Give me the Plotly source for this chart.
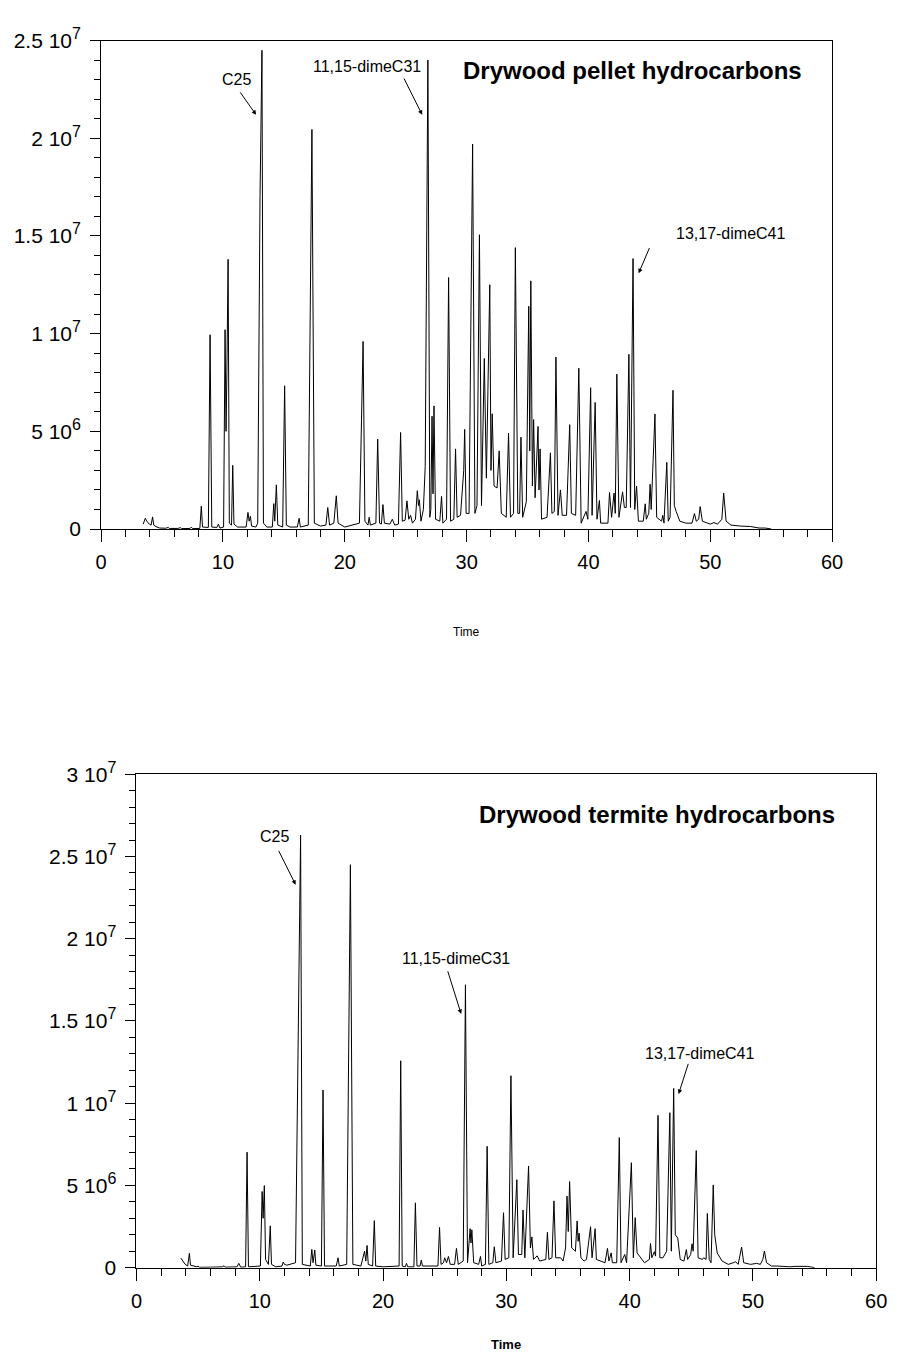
import plotly.graph_objects as go

# ---------------- data (time in min, signal in millions of counts) ----------------
pellet_time = [3.45, 3.62, 3.75, 3.95, 4.10, 4.22, 4.32, 4.5, 4.8, 5.3, 5.5, 5.6, 6.3, 6.5, 6.6, 7.3, 7.4, 7.5,
               8.1, 8.22, 8.32, 8.8, 8.94, 9.08, 9.5, 9.62, 9.75, 10.05, 10.17, 10.25, 10.32, 10.42, 10.52, 10.7,
               10.8, 10.9, 11.2, 11.9, 12.05, 12.15, 12.25, 12.35, 12.7, 12.85, 13.04, 13.1, 13.2, 13.32, 13.6,
               14.05, 14.17, 14.25, 14.38, 14.5, 14.9, 15.06, 15.2, 15.5, 16.1, 16.25, 16.35, 17.0, 17.3, 17.5,
               18.0, 18.45, 18.6, 18.75, 19.1, 19.3, 19.45, 20.0, 21.2, 21.5, 21.65, 21.9, 22.0, 22.1, 22.55,
               22.7, 22.85, 23.0, 23.13, 23.25, 23.7, 23.9, 24.1, 24.4, 24.58, 24.72, 24.95, 25.1, 25.25, 25.4,
               25.55, 25.8, 25.95, 26.05, 26.12, 26.25, 26.45, 26.6, 26.82, 26.98, 27.06, 27.16, 27.24, 27.32,
               27.45, 27.8, 27.94, 28.05, 28.35, 28.52, 28.68, 28.95, 29.09, 29.22, 29.5, 29.76, 29.84, 29.96,
               30.2, 30.49, 30.68, 30.85, 31.05, 31.22, 31.45, 31.62, 31.9, 32.0, 32.1, 32.25, 32.5, 32.67,
               32.85, 33.25, 33.44, 33.6, 33.85, 34.0, 34.2, 34.35, 34.46, 34.6, 34.9, 35.1, 35.18, 35.27,
               35.4, 35.5, 35.62, 35.86, 35.94, 36.03, 36.15, 36.6, 36.88, 37.0, 37.2, 37.33, 37.5, 37.7,
               37.85, 38.2, 38.46, 38.6, 38.95, 39.21, 39.4, 39.8, 39.95, 40.18, 40.3, 40.55, 40.7, 40.9,
               41.0, 41.6, 41.73, 41.9, 42.1, 42.2, 42.33, 42.5, 42.8, 42.95, 43.1, 43.32, 43.45, 43.66,
               43.8, 43.95, 44.1, 44.5, 44.66, 44.75, 44.95, 45.06, 45.15, 45.46, 45.6, 46.0, 46.1, 46.2,
               46.43, 46.55, 46.7, 46.94, 47.05, 47.2, 47.5, 48.0, 48.5, 48.7, 48.85, 49.05, 49.17, 49.35,
               50.0, 50.3, 50.6, 50.95, 51.1, 51.3, 51.7, 52.5, 53.3, 54.0, 54.5, 55.0]
pellet_signal = [0.25, 0.55, 0.4, 0.25, 0.2, 0.62, 0.2, 0.12, 0.05, 0.04, 0.08, 0.03, 0.03, 0.07, 0.02, 0.03, 0.1, 0.02,
                 0.03, 1.17, 0.1, 0.08, 9.94, 0.1, 0.08, 0.25, 0.05, 0.1, 10.2, 5.0, 8.0, 13.8, 0.3, 0.2,
                 3.26, 0.25, 0.1, 0.1, 0.85, 0.4, 0.65, 0.15, 0.1, 0.3, 17.0, 21.4, 24.5, 0.3, 0.1,
                 0.1, 1.3, 0.4, 2.26, 0.2, 0.1, 7.33, 0.2, 0.1, 0.1, 0.55, 0.1, 0.2, 20.45, 0.3,
                 0.15, 0.2, 1.1, 0.2, 0.3, 1.7, 0.3, 0.1, 0.3, 9.6, 0.4, 0.2, 0.6, 0.2, 0.3,
                 4.6, 0.3, 0.25, 1.25, 0.3, 0.25, 0.5, 0.2, 0.25, 4.94, 0.4, 0.45, 1.44, 0.5, 0.7,
                 0.3, 0.5, 1.96, 1.2, 1.5, 0.4, 1.0, 3.2, 24.0, 0.6, 1.0, 5.77, 1.8, 6.3,
                 0.5, 0.4, 1.67, 0.3, 0.5, 12.87, 0.4, 0.5, 4.1, 0.6, 0.7, 3.0, 5.1, 0.8,
                 0.8, 19.7, 0.8, 1.2, 15.06, 1.2, 8.73, 2.6, 12.5, 3.0, 5.9, 2.2, 2.1, 4.0,
                 0.8, 0.6, 4.9, 0.6, 0.8, 14.4, 0.8, 0.8, 4.7, 0.6, 1.4, 11.4, 4.0, 12.7,
                 2.2, 5.6, 1.6, 5.25, 2.0, 4.1, 0.5, 0.6, 3.9, 0.8, 0.9, 8.8, 0.7, 2.0,
                 0.7, 0.7, 5.34, 0.8, 0.7, 8.23, 0.3, 0.9, 0.5, 7.23, 0.7, 6.48, 0.5, 1.46,
                 0.3, 0.3, 1.87, 0.6, 1.84, 0.8, 7.93, 0.6, 1.9, 1.1, 1.1, 8.94, 1.1, 13.84,
                 1.0, 2.2, 0.4, 0.4, 1.29, 0.5, 0.8, 2.29, 1.0, 5.89, 0.6, 0.4, 0.7, 0.3,
                 3.41, 0.4, 0.6, 7.1, 1.2, 0.9, 0.4, 0.3, 0.3, 0.79, 0.4, 0.5, 1.15, 0.4,
                 0.25, 0.33, 0.25, 0.5, 1.84, 0.4, 0.2, 0.15, 0.13, 0.05, 0.05, 0.0]

termite_time = [3.6, 3.75, 3.95, 4.15, 4.29, 4.38, 4.6, 4.9, 5.0, 5.1, 6.0, 7.0, 7.1, 7.2, 8.15, 8.3, 8.45,
                8.85, 8.97, 9.08, 10.05, 10.19, 10.27, 10.37, 10.47, 10.7, 10.85, 10.95, 11.3, 11.8, 11.9,
                12.0, 12.2, 12.9, 13.31, 13.45, 14.1, 14.22, 14.32, 14.46, 14.55, 15.0, 15.13, 15.25, 16.2,
                16.35, 16.45, 17.05, 17.35, 17.55, 18.2, 18.5, 18.6, 18.7, 18.8, 19.15, 19.29, 19.4, 20.0,
                21.3, 21.43, 21.55, 21.8, 21.9, 22.0, 22.5, 22.62, 22.75, 23.0, 23.1, 23.2, 23.6, 24.45,
                24.58, 24.7, 24.9, 25.0, 25.15, 25.3, 25.45, 25.8, 25.95, 26.1, 26.5, 26.68, 26.85, 27.06,
                27.13, 27.2, 27.35, 27.75, 27.9, 28.0, 28.3, 28.44, 28.58, 28.9, 29.02, 29.15, 29.6, 29.77,
                29.9, 30.2, 30.37, 30.55, 30.85, 30.98, 31.25, 31.35, 31.5, 31.8, 31.95, 32.07, 32.2, 32.5,
                32.7, 33.2, 33.33, 33.45, 33.7, 33.86, 34.0, 34.4, 34.6, 34.8, 34.92, 35.02, 35.13, 35.3,
                35.6, 35.74, 35.82, 35.9, 36.05, 36.3, 36.5, 36.83, 36.95, 37.2, 37.3, 37.7, 38.0, 38.2,
                38.32, 38.5, 38.6, 38.95, 39.16, 39.3, 39.6, 39.75, 40.14, 40.3, 40.45, 40.6, 40.9, 41.2,
                41.6, 41.69, 41.8, 42.0, 42.1, 42.3, 42.45, 42.7, 43.0, 43.26, 43.38, 43.57, 43.7, 43.9,
                44.1, 44.4, 44.6, 44.7, 44.95, 45.06, 45.15, 45.4, 45.55, 45.9, 46.0, 46.2, 46.3, 46.45,
                46.6, 46.78, 46.9, 47.1, 47.5, 48.0, 48.4, 48.6, 48.8, 49.08, 49.25, 49.8, 50.3, 50.6,
                50.8, 50.93, 51.1, 51.5, 52.0, 53.0, 53.4, 54.4, 55.0]
termite_signal = [0.58, 0.4, 0.2, 0.1, 0.87, 0.15, 0.1, 0.05, 0.1, 0.02, 0.03, 0.05, 0.12, 0.03, 0.05, 0.26, 0.03,
                  0.05, 7.02, 0.05, 0.1, 4.63, 3.0, 4.99, 0.5, 0.2, 2.54, 0.2, 0.05, 0.1, 0.34,
                  0.2, 0.15, 0.3, 26.3, 0.2, 0.1, 1.11, 0.3, 1.07, 0.15, 0.1, 10.8, 0.1, 0.1,
                  0.6, 0.1, 0.2, 24.5, 0.2, 0.1, 1.0, 0.4, 1.35, 0.2, 0.1, 2.86, 0.1, 0.05,
                  0.1, 12.58, 0.1, 0.05, 0.26, 0.05, 0.05, 3.94, 0.1, 0.1, 0.46, 0.1, 0.1, 0.1,
                  2.45, 0.2, 0.3, 0.6, 0.3, 0.68, 0.2, 0.2, 1.17, 0.2, 0.4, 17.2, 0.3, 2.37,
                  1.5, 2.3, 0.3, 0.2, 0.68, 0.1, 0.2, 7.38, 0.2, 0.3, 1.27, 0.3, 0.4, 3.34,
                  0.5, 0.6, 11.67, 0.6, 5.35, 0.8, 0.8, 3.5, 0.6, 6.18, 1.2, 1.87, 0.5, 0.72,
                  0.4, 0.5, 2.15, 0.5, 0.6, 4.06, 0.6, 0.6, 0.4, 1.2, 4.35, 2.2, 5.23, 1.2,
                  1.0, 2.84, 1.6, 2.1, 0.6, 0.4, 0.5, 2.49, 0.6, 2.37, 0.5, 0.4, 0.3, 1.17,
                  0.4, 0.9, 0.3, 0.3, 7.91, 0.3, 0.8, 0.3, 6.38, 0.6, 3.04, 0.9, 0.6, 0.3,
                  0.5, 1.47, 0.6, 0.97, 0.7, 9.26, 0.6, 0.6, 1.0, 9.42, 1.0, 10.9, 2.0, 1.8,
                  0.5, 0.4, 1.1, 0.5, 0.8, 1.45, 1.0, 7.12, 0.6, 0.5, 0.6, 0.5, 3.3, 0.5,
                  0.3, 5.03, 2.0, 0.9, 0.4, 0.2, 0.3, 0.36, 0.2, 1.25, 0.3, 0.2, 0.26, 0.2,
                  0.5, 1.01, 0.3, 0.1, 0.1, 0.05, 0.08, 0.08, 0.0]

x_tick_vals = [0, 10, 20, 30, 40, 50, 60]
pellet_y_ticks = [0, 5e6, 1e7, 1.5e7, 2e7, 2.5e7]
pellet_y_mant = ["0", "5", "1", "1.5", "2", "2.5"]
pellet_y_exp = ["", "6", "7", "7", "7", "7"]
termite_y_ticks = [0, 5e6, 1e7, 1.5e7, 2e7, 2.5e7, 3e7]
termite_y_mant = ["0", "5", "1", "1.5", "2", "2.5", "3"]
termite_y_exp = ["", "6", "7", "7", "7", "7", "7"]

FONT = "Liberation Sans, Arial, sans-serif"
W, H = 900, 1364


def sci_text(mant, exp):
    if not exp:
        return mant
    return f"{mant} 10<sup><span style='font-size:16px'>{exp}</span></sup>"


fig = go.Figure()
fig.add_trace(go.Scatter(x=pellet_time, y=[v * 1e6 for v in pellet_signal], mode="lines",
                         line=dict(color="black", width=1), xaxis="x", yaxis="y", showlegend=False))
fig.add_trace(go.Scatter(x=termite_time, y=[v * 1e6 for v in termite_signal], mode="lines",
                         line=dict(color="black", width=1), xaxis="x2", yaxis="y2", showlegend=False))


def px_dom(a, b):
    return [a / W, b / W]


def py_dom(top, bottom):
    return [1 - bottom / H, 1 - top / H]


xcommon = dict(range=[0, 60], tickvals=x_tick_vals, ticks="outside", ticklen=12, tickwidth=1,
               tickcolor="black", showline=True, linecolor="black", linewidth=1, mirror=True,
               showgrid=False, zeroline=False, ticklabelstandoff=3,
               tickfont=dict(family=FONT, size=20, color="black"),
               minor=dict(dtick=2, ticks="outside", ticklen=7, tickwidth=1, tickcolor="black"))
ycommon = dict(ticks="outside", ticklen=10, tickwidth=1, tickcolor="black", showline=True,
               linecolor="black", linewidth=1, mirror=True, showgrid=False, zeroline=False,
               ticklabelstandoff=5,
               tickfont=dict(family=FONT, size=21, color="black"), tickmode="array",
               minor=dict(dtick=1e6, ticks="outside", ticklen=6, tickwidth=1, tickcolor="black"))

fig.update_layout(
    width=W, height=H, margin=dict(l=0, r=0, t=0, b=0),
    paper_bgcolor="white", plot_bgcolor="white",
    xaxis=dict(domain=px_dom(97, 842), anchor="y", **xcommon),
    yaxis=dict(domain=py_dom(26, 524), anchor="x", range=[0, 2.5e7],
               tickvals=pellet_y_ticks,
               ticktext=[sci_text(m, e) for m, e in zip(pellet_y_mant, pellet_y_exp)], **ycommon),
    xaxis2=dict(domain=px_dom(133, 887), anchor="y2", **xcommon),
    yaxis2=dict(domain=py_dom(774, 1277), anchor="x2", range=[0, 3e7],
                tickvals=termite_y_ticks,
                ticktext=[sci_text(m, e) for m, e in zip(termite_y_mant, termite_y_exp)], **ycommon),
)

ann = []


def label(xr, yr, x, y, text, size=16, bold=False, xanchor="center"):
    ann.append(dict(xref=xr, yref=yr, x=x, y=y, text=f"<b>{text}</b>" if bold else text,
                    showarrow=False, xanchor=xanchor, yanchor="middle",
                    font=dict(family=FONT, size=size, color="black")))


def arrow(xr, yr, x, y, ax, ay):
    ann.append(dict(xref=xr, yref=yr, x=x, y=y, ax=ax, ay=ay, axref=xr, ayref=yr, text="",
                    showarrow=True, arrowhead=2, arrowsize=0.9, arrowwidth=1, arrowcolor="black"))


# top panel
label("x", "y", 57.73, 23.44e6, "Drywood pellet hydrocarbons", size=24, bold=True, xanchor="right")
label("x", "y", 11.11, 22.99e6, "C25")
arrow("x", "y", 12.72, 21.2e6, 11.33, 22.42e6)
label("x", "y", 21.84, 23.68e6, "11,15-dimeC31")
arrow("x", "y", 26.35, 21.2e6, 24.8, 23.13e6)
label("x", "y", 51.67, 15.13e6, "13,17-dimeC41")
arrow("x", "y", 44.12, 13.09e6, 45.06, 14.46e6)
label("paper", "paper", (97 + 842) / 2 / W, 1 - 629 / H, "Time", size=12)

# bottom panel
label("x2", "y2", 56.85, 27.55e6, "Drywood termite hydrocarbons", size=24, bold=True, xanchor="right")
label("x2", "y2", 11.17, 26.2e6, "C25")
arrow("x2", "y2", 12.91, 23.28e6, 11.48, 25.43e6)
label("x2", "y2", 25.9, 18.8e6, "11,15-dimeC31")
arrow("x2", "y2", 26.33, 15.43e6, 25.21, 18.11e6)
label("x2", "y2", 45.67, 13.04e6, "13,17-dimeC41")
arrow("x2", "y2", 43.97, 10.56e6, 44.79, 12.48e6)
label("paper", "paper", (133 + 887) / 2 / W, 1 - 1355 / H, "Time", size=13, bold=True)

fig.update_layout(annotations=ann)
fig.write_html("out.html")
